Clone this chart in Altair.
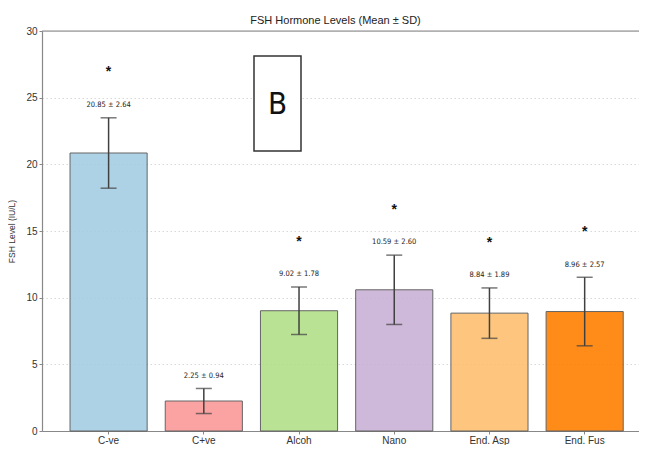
import altair as alt
import pandas as pd

groups = ["C-ve", "C+ve", "Alcoh", "Nano", "End. Asp", "End. Fus"]
means = [20.85, 2.25, 9.02, 10.59, 8.84, 8.96]
sds = [2.64, 0.94, 1.78, 2.60, 1.89, 2.57]
significant = [True, False, True, True, True, True]
colors = ["#a6cee3", "#fb9a99", "#b2df8a", "#cab2d6", "#fdbf6f", "#ff7f00"]
y_ticks = [0, 5, 10, 15, 20, 25, 30]

df = pd.DataFrame({
    "group": groups,
    "mean": means,
    "sd": sds,
    "sig": significant,
})
df["lo"] = df["mean"] - df["sd"]
df["hi"] = df["mean"] + df["sd"]
df["label"] = [f"{m:.2f} ± {s:.2f}" for m, s in zip(means, sds)]

FONT = "Liberation Sans"
NARROW = "'Liberation Sans Narrow', 'DejaVu Sans Condensed', 'Roboto Condensed', 'Liberation Sans', sans-serif"
W, H = 597, 400

xscale = alt.Scale(domain=groups, paddingInner=0.19, paddingOuter=0.23, align=0.64)
yscale = alt.Scale(domain=[0, 30], nice=False)

x = alt.X("group:N", scale=xscale, sort=groups,
          axis=alt.Axis(title=None, labelAngle=0, labelFontSize=10, labelColor="#333",
                        labelFont=FONT, domainColor="#888", tickColor="#888",
                        tickSize=3, labelPadding=1, domainWidth=1.2))
y = alt.Y("mean:Q", scale=yscale,
          axis=alt.Axis(title="FSH Level (IU/L)", values=y_ticks, titleFontSize=8.5,
                        titleFontWeight="normal", titleColor="#333", titleFont=FONT,
                        labelFontSize=10, labelColor="#333", labelFont=FONT,
                        domainColor="#888", tickColor="#888", tickSize=3,
                        domainWidth=1.2, grid=True, gridDash=[1.5, 2.5], gridColor="#d8d8d8",
                        titlePadding=9))

base = alt.Chart(df)

bars = base.mark_bar(stroke="#555", strokeWidth=1, opacity=0.9).encode(
    x=x, y=y,
    color=alt.Color("group:N", scale=alt.Scale(domain=groups, range=colors), legend=None),
)

err = base.mark_rule(color="#404040", strokeWidth=1.5).encode(
    x=alt.X("group:N", scale=xscale, sort=groups), y=alt.Y("lo:Q", scale=yscale), y2="hi:Q")

cap_lo = base.mark_tick(color="#404040", thickness=1.5, size=16).encode(
    x=alt.X("group:N", scale=xscale, sort=groups), y=alt.Y("lo:Q", scale=yscale))
cap_hi = base.mark_tick(color="#404040", thickness=1.5, size=16).encode(
    x=alt.X("group:N", scale=xscale, sort=groups), y=alt.Y("hi:Q", scale=yscale))

labels = base.transform_calculate(ly="datum.hi + 0.95").mark_text(
    fontSize=7.5, font=NARROW, color="#222", baseline="middle").encode(
    x=alt.X("group:N", scale=xscale, sort=groups), y=alt.Y("ly:Q", scale=yscale),
    text="label:N")

stars = base.transform_filter("datum.sig").transform_calculate(sy="datum.hi + 3.7").mark_text(
    fontSize=14, font=FONT, fontWeight="bold", color="#111", baseline="middle", dy=4).encode(
    x=alt.X("group:N", scale=xscale, sort=groups), y=alt.Y("sy:Q", scale=yscale),
    text=alt.value("*"))

top_spine = alt.Chart(pd.DataFrame({"v": [0]})).mark_rule(color="#888", strokeWidth=1.2).encode(
    x=alt.value(0), x2=alt.value(W), y=alt.value(0))

box = alt.Chart(pd.DataFrame({"v": [0]})).mark_rect(
    fill="white", stroke="#333", strokeWidth=1.5).encode(
    x=alt.value(212), x2=alt.value(259), y=alt.value(25), y2=alt.value(120))
box_text = alt.Chart(pd.DataFrame({"v": [0]})).mark_text(
    text="B", fontSize=31, font=NARROW, color="#111", baseline="middle").encode(
    x=alt.value(235.5), y=alt.value(74))

chart = alt.layer(bars, err, cap_lo, cap_hi, labels, stars, top_spine, box, box_text).properties(
    width=W, height=H,
    title=alt.TitleParams("FSH Hormone Levels (Mean ± SD)", fontSize=11, font=FONT,
                          fontWeight="normal", color="#222", offset=0, dx=-5),
    autosize=alt.AutoSizeParams(type="none"),
    padding={"left": 34, "top": 23, "right": 0, "bottom": 14},
).configure_view(stroke=None).configure(background="white")

chart.save("out.html", embed_options={"renderer": "svg", "actions": False})
